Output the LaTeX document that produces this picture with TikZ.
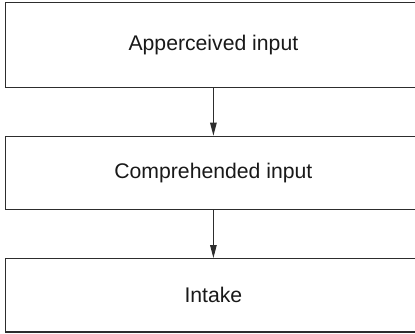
\documentclass[tikz,border=0pt]{standalone}
\usepackage{fontspec}
\setmainfont{Liberation Sans}
\usetikzlibrary{arrows.meta}
\definecolor{linegray}{RGB}{45,45,45}
\begin{document}
\begin{tikzpicture}[x=1pt,y=-1pt,
  box/.style={draw=linegray,line width=1.2pt,minimum width=416pt,inner sep=0pt,
    font=\fontsize{21.2}{25}\selectfont,text=black!90},
  conn/.style={draw=linegray,line width=1.1pt,-{Triangle[length=13pt,width=6.5pt]}}]
\useasboundingbox (0,0) rectangle (415,334);
\clip (0,0) rectangle (415,334);
\node[box,minimum height=85pt] (a) at (213.4,45.2) {Apperceived input};
\node[box,minimum height=73.4pt] (b) at (213.4,173) {Comprehended input};
\node[box,minimum height=73.3pt] (c) at (213.4,295.3) {Intake};
\draw[conn] (a) -- (b);
\draw[conn] (b) -- (c);
\end{tikzpicture}
\end{document}
